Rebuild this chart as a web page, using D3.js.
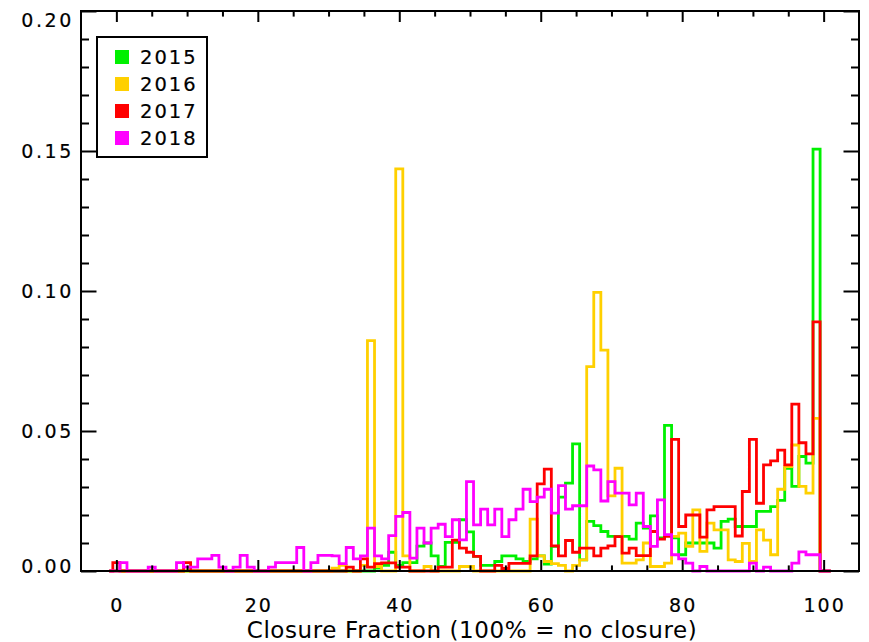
<!DOCTYPE html>
<html>
<head>
<meta charset="utf-8">
<script src="https://cdn.jsdelivr.net/npm/d3@7"></script>
<style>
  body { margin: 0; background: #fff; }
  svg text { font-family: "DejaVu Sans", sans-serif; fill: #000; stroke: #000; stroke-width: 0.2px; }
</style>
</head>
<body>
<svg id="chart" width="869" height="642"></svg>
<script>
// Histogram bin centres (closure fraction, %)
const binCenters = d3.range(-1, 102);

const years = ["2015", "2016", "2017", "2018"];
const yearColors = ["#00f000", "#ffd000", "#ff0000", "#ff00ff"];

const xTickValues = [0, 20, 40, 60, 80, 100];
const yTickValues = [0, 0.05, 0.10, 0.15, 0.20];

// Normalised frequency per bin, bins -1 .. 101
const freq2015 = [
  0,0,0,0,0,0,0,0,0,0,
  0,0,0,0,0,0,0,0,0,0,
  0,0,0,0,0,0,0,0,0,0,
  0,0,0,0,0,0,0,0,0.001,0.002,
  0.0067,0.002,0.003,0.003,0.0089,0.0100,0.0054,0.0016,0.0102,0.0102,
  0.0183,0.0140,0.0052,0.0020,0.0020,0.0034,0.0054,0.0054,0.0043,0.0034,
  0.0043,0.0054,0.0025,0.0088,0.0264,0.0314,0.0454,0.0040,0.0177,0.0162,
  0.0141,0.0124,0.0124,0.0124,0.0114,0.0171,0.0153,0.0197,0.0118,0.0520,
  0.0118,0.0058,0.0100,0.0100,0.0100,0.0100,0.0082,0.0177,0.0185,0.0159,
  0.0159,0.0159,0.0213,0.0213,0.0230,0.0252,0.0367,0.0302,0.0409,0.0385,
  0.1507,0,0
];
const freq2016 = [
  0,0,0,0,0,0,0,0,0,0,
  0,0,0,0,0,0,0,0,0,0,
  0,0,0,0,0,0,0,0,0,0,
  0,0,0.001,0.002,0,0,0.002,0.0823,0.0016,0,
  0,0.1436,0.0054,0,0,0.0016,0,0,0,0,
  0.0016,0.0016,0,0,0,0,0,0,0,0,
  0.0185,0.0054,0.0034,0.0026,0.0020,0,0.0020,0.0040,0.0730,0.0995,
  0.0789,0.0268,0.0367,0.0028,0.0028,0.0040,0.0100,0.0016,0.0016,0.0028,
  0.0124,0.0135,0.0088,0.0218,0.0070,0.0171,0.0147,0.0147,0.0040,0.0034,
  0.0099,0.0034,0.0147,0.0110,0.0058,0.0292,0.0373,0.0450,0.0302,0.0278,
  0.0545,0,0
];
const freq2017 = [
  0,0.003,0,0,0,0,0,0,0,0,
  0,0.003,0,0,0,0,0,0,0,0,
  0,0,0,0,0,0,0,0,0,0,
  0,0,0,0,0.0014,0,0.0043,0.0014,0.0026,0.0029,
  0.0029,0.0014,0.0014,0,0,0,0,0.0014,0.0014,0.0110,
  0.0082,0.0067,0.0052,0,0,0.0020,0.0009,0.0027,0.0027,0.0027,
  0.0054,0.0311,0.0364,0.0090,0.0054,0.0109,0.0067,0.0082,0.0082,0.0054,
  0.0082,0.0090,0.0123,0.0064,0.0082,0.0055,0.0055,0.0141,0.0114,0.0124,
  0.0470,0.0159,0.0200,0.0200,0.0121,0.0218,0.0230,0.0230,0.0230,0.0125,
  0.0284,0.0470,0.0242,0.0379,0.0393,0.0432,0.0379,0.0596,0.0458,0.0418,
  0.0890,0,0
];
const freq2018 = [
  0,0,0.003,0,0,0,0.0014,0,0,0,
  0.003,0.0014,0.0014,0.0043,0.0043,0.0056,0.0014,0,0.0014,0.0056,
  0.0014,0,0,0.0014,0.003,0.003,0.003,0.0084,0,0.003,
  0.0056,0.0056,0.0054,0.0026,0.0084,0.0043,0.0054,0.0153,0.0054,0.0043,
  0.0126,0.0195,0.0209,0.0046,0.0153,0.0100,0.0153,0.0167,0.0123,0.0183,
  0.0111,0.0319,0.0165,0.0221,0.0165,0.0221,0.0123,0.0183,0.0221,0.0292,
  0.0248,0.0264,0.0292,0.0207,0.0305,0.0221,0.0233,0.0233,0.0375,0.0361,
  0.0250,0.0319,0.0278,0.0278,0.0236,0.0278,0.0159,0.0088,0.0254,0.0130,
  0.0058,0.0043,0.0028,0,0.0016,0,0,0,0,0,
  0,0.0028,0,0.0014,0,0,0,0.0028,0.0068,0.0058,
  0.0058,0,0
];
const seriesValues = [freq2015, freq2016, freq2017, freq2018];

const svg = d3.select("#chart");
const plot = { left: 81, right: 859, top: 11, bottom: 571 };

const x = d3.scaleLinear().domain([-5, 105]).range([plot.left, plot.right]);
const y = d3.scaleLinear().domain([0, 0.20]).range([plot.bottom, plot.top]);

// Step histograms (midpoint steps)
const line = d3.line()
  .x((d, i) => x(binCenters[i]))
  .y(d => y(d))
  .curve(d3.curveStep);

svg.append("g").selectAll("path")
  .data(seriesValues)
  .join("path")
  .attr("d", d => line(d))
  .attr("fill", "none")
  .attr("stroke", (d, i) => yearColors[i])
  .attr("stroke-width", 2.8)
  .attr("stroke-linejoin", "miter");

// Frame
svg.append("rect")
  .attr("x", plot.left).attr("y", plot.top)
  .attr("width", plot.right - plot.left).attr("height", plot.bottom - plot.top)
  .attr("fill", "none").attr("stroke", "#000").attr("stroke-width", 2);

// Inward ticks on all four sides
const xMinor = d3.range(0, 101, 5).filter(v => v % 20 !== 0);
const yMinor = d3.range(1, 20).filter(v => v % 5 !== 0).map(v => v / 100);

function ticks(axisGen, sel, values, size) {
  sel.call(axisGen.tickValues(values).tickSize(size).tickFormat(""))
     .call(g => g.select(".domain").remove())
     .call(g => g.selectAll("line").attr("stroke", "#000").attr("stroke-width", 2));
}
const gBottom = svg.append("g").attr("transform", `translate(0,${plot.bottom})`);
ticks(d3.axisTop(x), gBottom.append("g"), xTickValues, 11);
ticks(d3.axisTop(x), gBottom.append("g"), xMinor, 5.6);
const gTop = svg.append("g").attr("transform", `translate(0,${plot.top})`);
ticks(d3.axisBottom(x), gTop.append("g"), xTickValues, 11);
ticks(d3.axisBottom(x), gTop.append("g"), xMinor, 5.6);
const gLeft = svg.append("g").attr("transform", `translate(${plot.left},0)`);
ticks(d3.axisRight(y), gLeft.append("g"), yTickValues, 15.5);
ticks(d3.axisRight(y), gLeft.append("g"), yMinor, 8);
const gRight = svg.append("g").attr("transform", `translate(${plot.right},0)`);
ticks(d3.axisLeft(y), gRight.append("g"), yTickValues, 15.5);
ticks(d3.axisLeft(y), gRight.append("g"), yMinor, 8);

// Tick labels
svg.append("g").selectAll("text")
  .data(xTickValues)
  .join("text")
  .attr("x", d => x(d) + 1)
  .attr("y", 612)
  .attr("text-anchor", "middle")
  .attr("font-size", 19)
  .attr("letter-spacing", 2)
  .text(d => d);

// the end labels are kept inside the frame's height
const yLabelShift = v => v === 0.20 ? 9 : (v === 0 ? -5 : 0);
svg.append("g").selectAll("text")
  .data(yTickValues)
  .join("text")
  .attr("x", 74)
  .attr("y", d => y(d) + yLabelShift(d) + 7)
  .attr("text-anchor", "end")
  .attr("font-size", 19)
  .attr("letter-spacing", 2.6)
  .text(d => d3.format(".2f")(d));

// Axis title
svg.append("text")
  .attr("x", 472)
  .attr("y", 638)
  .attr("text-anchor", "middle")
  .attr("font-size", 23)
  .attr("letter-spacing", 0.6)
  .style("stroke-width", "0px")
  .text("Closure Fraction (100% = no closure)");

// Legend
const legend = svg.append("g");
legend.append("rect")
  .attr("x", 97).attr("y", 37).attr("width", 110).attr("height", 120)
  .attr("fill", "#fff").attr("stroke", "#000").attr("stroke-width", 2);
const rows = legend.selectAll("g.row")
  .data(years)
  .join("g")
  .attr("class", "row")
  .attr("transform", (d, i) => `translate(0,${57 + i * 27})`);
rows.append("rect")
  .attr("x", 115).attr("y", -7).attr("width", 14).attr("height", 14)
  .attr("fill", (d, i) => yearColors[i]);
rows.append("text")
  .attr("x", 140).attr("y", 7)
  .attr("font-size", 19.5)
  .attr("letter-spacing", 2)
  .text(d => d);
</script>
</body>
</html>
